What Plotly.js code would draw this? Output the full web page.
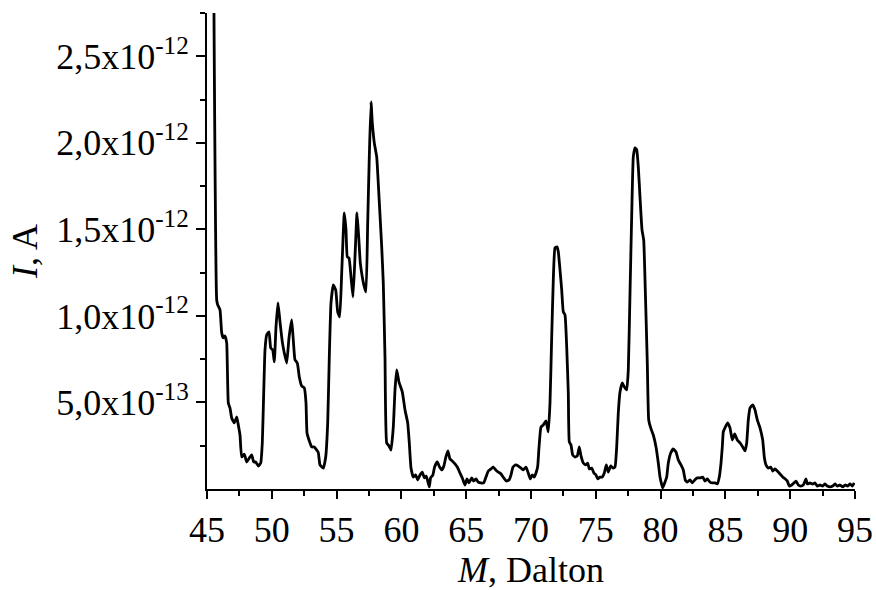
<!DOCTYPE html>
<html>
<head>
<meta charset="utf-8">
<script src="https://cdn.plot.ly/plotly-3.0.1.min.js"></script>
<style>html,body{margin:0;padding:0;background:#fff;}#chart{width:876px;height:590px;}</style>
</head>
<body>
<div id="chart"></div>
<script>
// Mass (Dalton)
const mass = [
45.463,45.748,45.826,46.003,46.134,46.258,46.389,46.520,46.644,46.775,46.906,47.107,47.292,47.415,47.546,47.677,47.878,48.063,48.264,48.449,48.603,48.758,48.958,49.144,49.267,49.375,49.475,49.606,49.784,49.915,50.069,50.193,50.324,50.478,50.633,50.810,50.965,51.150,51.327,51.535,51.659,51.790,51.968,52.122,52.307,52.508,52.639,52.716,52.870,53.079,53.279,53.464,53.589,53.719,53.977,54.159,54.313,54.437,54.568,54.745,54.931,55.085,55.239,55.394,55.594,55.725,55.826,55.957,56.111,56.265,56.420,56.574,56.705,56.829,56.983,57.137,57.268,57.399,57.523,57.654,57.755,57.909,58.094,58.272,58.480,58.603,58.734,58.866,59.043,59.197,59.375,59.506,59.637,59.815,60.069,60.278,60.486,60.610,60.741,60.918,61.103,61.258,61.435,61.612,61.767,61.920,62.151,62.252,62.429,62.560,62.769,62.946,63.123,63.278,63.432,63.586,63.750,63.927,64.136,64.313,64.522,64.699,64.907,65.062,65.216,65.424,65.579,65.756,65.934,66.142,66.350,66.528,66.705,66.914,67.091,67.276,67.477,67.685,67.894,68.094,68.302,68.456,68.611,68.819,69.020,69.228,69.405,69.614,69.791,69.946,70.100,70.254,70.409,70.516,70.617,70.771,70.949,71.157,71.335,71.466,71.597,71.721,71.852,72.006,72.107,72.238,72.369,72.492,72.623,72.755,72.878,72.955,73.086,73.217,73.395,73.572,73.727,73.858,74.035,74.221,74.375,74.498,74.683,74.861,75.015,75.146,75.324,75.501,75.656,75.810,75.964,76.149,76.327,76.481,76.612,76.736,76.867,77.045,77.199,77.384,77.508,77.639,77.770,77.893,78.025,78.156,78.279,78.410,78.565,78.696,78.819,78.974,79.082,79.236,79.437,79.645,79.823,79.954,80.162,80.340,80.471,80.594,80.780,80.980,81.189,81.366,81.574,81.752,81.906,82.061,82.269,82.446,82.632,82.832,83.040,83.249,83.426,83.604,83.812,84.020,84.198,84.375,84.529,84.661,84.761,84.838,84.992,85.177,85.355,85.532,85.717,85.918,86.126,86.335,86.512,86.643,86.767,86.898,87.106,87.284,87.461,87.669,87.878,88.001,88.132,88.310,88.495,88.650,88.827,89.004,89.213,89.421,89.622,89.776,89.930,90.115,90.293,90.447,90.625,90.810,91.011,91.219,91.319,91.527,91.736,91.913,92.091,92.299,92.507,92.685,92.862,93.071,93.279,93.457,93.634,93.842,94.051,94.251,94.436,94.614,94.791,94.946
];
// Ion current, in units of 1e-12 A
const currentPA = [
3.700,1.092,1.064,1.035,0.902,0.873,0.884,0.844,0.497,0.468,0.410,0.382,0.416,0.370,0.312,0.185,0.202,0.156,0.179,0.197,0.156,0.156,0.133,0.150,0.266,0.555,0.803,0.890,0.908,0.815,0.803,0.734,0.936,1.075,0.965,0.850,0.786,0.728,0.873,0.977,0.861,0.746,0.728,0.647,0.595,0.584,0.497,0.324,0.283,0.243,0.243,0.225,0.210,0.139,0.121,0.185,0.382,0.763,1.075,1.179,1.150,1.023,0.994,1.249,1.595,1.497,1.341,1.335,1.225,1.110,1.341,1.595,1.457,1.306,1.225,1.168,1.139,1.538,1.919,2.237,2.116,2.000,1.919,1.688,1.399,1.191,0.763,0.266,0.249,0.225,0.358,0.572,0.688,0.618,0.561,0.457,0.382,0.266,0.121,0.069,0.081,0.052,0.081,0.098,0.064,0.075,0.012,0.064,0.081,0.127,0.156,0.127,0.110,0.133,0.185,0.220,0.173,0.162,0.145,0.127,0.092,0.064,0.023,0.058,0.035,0.064,0.046,0.058,0.040,0.035,0.035,0.069,0.104,0.116,0.127,0.110,0.098,0.087,0.064,0.046,0.052,0.081,0.127,0.139,0.133,0.121,0.110,0.127,0.092,0.058,0.081,0.069,0.098,0.130,0.240,0.358,0.370,0.393,0.330,0.497,0.879,1.208,1.393,1.399,1.370,1.266,1.150,1.023,1.006,0.821,0.555,0.272,0.254,0.197,0.185,0.191,0.243,0.191,0.150,0.139,0.150,0.116,0.121,0.092,0.081,0.058,0.069,0.069,0.092,0.139,0.098,0.133,0.121,0.127,0.243,0.440,0.561,0.613,0.590,0.572,0.688,1.130,1.580,1.919,1.971,1.960,1.861,1.688,1.497,1.439,1.150,0.728,0.399,0.353,0.312,0.243,0.150,0.069,0.006,0.040,0.069,0.150,0.208,0.231,0.214,0.168,0.139,0.110,0.052,0.040,0.052,0.035,0.052,0.064,0.064,0.069,0.046,0.058,0.040,0.035,0.035,0.029,0.069,0.150,0.243,0.330,0.358,0.382,0.353,0.283,0.318,0.283,0.266,0.243,0.220,0.266,0.399,0.468,0.486,0.457,0.399,0.353,0.283,0.185,0.139,0.121,0.127,0.104,0.116,0.104,0.087,0.069,0.058,0.046,0.017,0.023,0.035,0.046,0.023,0.017,0.023,0.058,0.029,0.035,0.029,0.035,0.017,0.023,0.017,0.029,0.017,0.012,0.017,0.029,0.017,0.023,0.012,0.023,0.017,0.029,0.017,0.035
];
const xTickVals = [45,50,55,60,65,70,75,80,85,90,95];
const xMinorVals = [47.5,52.5,57.5,62.5,67.5,72.5,77.5,82.5,87.5,92.5];
const yTickVals = [0.5,1.0,1.5,2.0,2.5];
const yTickText = ['5,0x10<sup>-13</sup>','1,0x10<sup>-12</sup>','1,5x10<sup>-12</sup>','2,0x10<sup>-12</sup>','2,5x10<sup>-12</sup>'];
const yMinorVals = [0.25,0.75,1.25,1.75,2.25,2.75];

const font = {family: '"Liberation Serif", "Times New Roman", serif', size: 36, color: '#000'};

Plotly.newPlot('chart', [{
  x: mass, y: currentPA, type: 'scatter', mode: 'lines',
  line: {color: '#000', width: 2.8, shape: 'spline', smoothing: 0.4}, hoverinfo: 'skip'
}], {
  width: 876, height: 590,
  margin: {l: 207, r: 21, t: 13, b: 101},
  paper_bgcolor: '#fff', plot_bgcolor: '#fff',
  showlegend: false,
  font: font,
  xaxis: {
    range: [45, 95], tickmode: 'array', tickvals: xTickVals,
    ticks: 'outside', ticklen: 8, tickwidth: 2, tickcolor: '#000',
    showline: true, linewidth: 2, linecolor: '#000',
    showgrid: false, zeroline: false, automargin: false,
    tickfont: font,
    minor: {tickmode: 'array', tickvals: xMinorVals, ticks: 'outside', ticklen: 5, tickwidth: 2, tickcolor: '#000', showgrid: false},
    title: {text: '<i>M</i>, Dalton', font: font, standoff: 2}
  },
  yaxis: {
    range: [0, 2.75], tickmode: 'array', tickvals: yTickVals, ticktext: yTickText,
    ticks: 'outside', ticklen: 9, tickwidth: 2, tickcolor: '#000',
    showline: true, linewidth: 2, linecolor: '#000',
    showgrid: false, zeroline: false, automargin: false,
    tickfont: font,
    minor: {tickmode: 'array', tickvals: yMinorVals, ticks: 'outside', ticklen: 5, tickwidth: 2, tickcolor: '#000', showgrid: false},
    title: {text: '<i>I</i>, A', font: font, standoff: 8}
  }
}, {displayModeBar: false, staticPlot: true});
</script>
</body>
</html>
